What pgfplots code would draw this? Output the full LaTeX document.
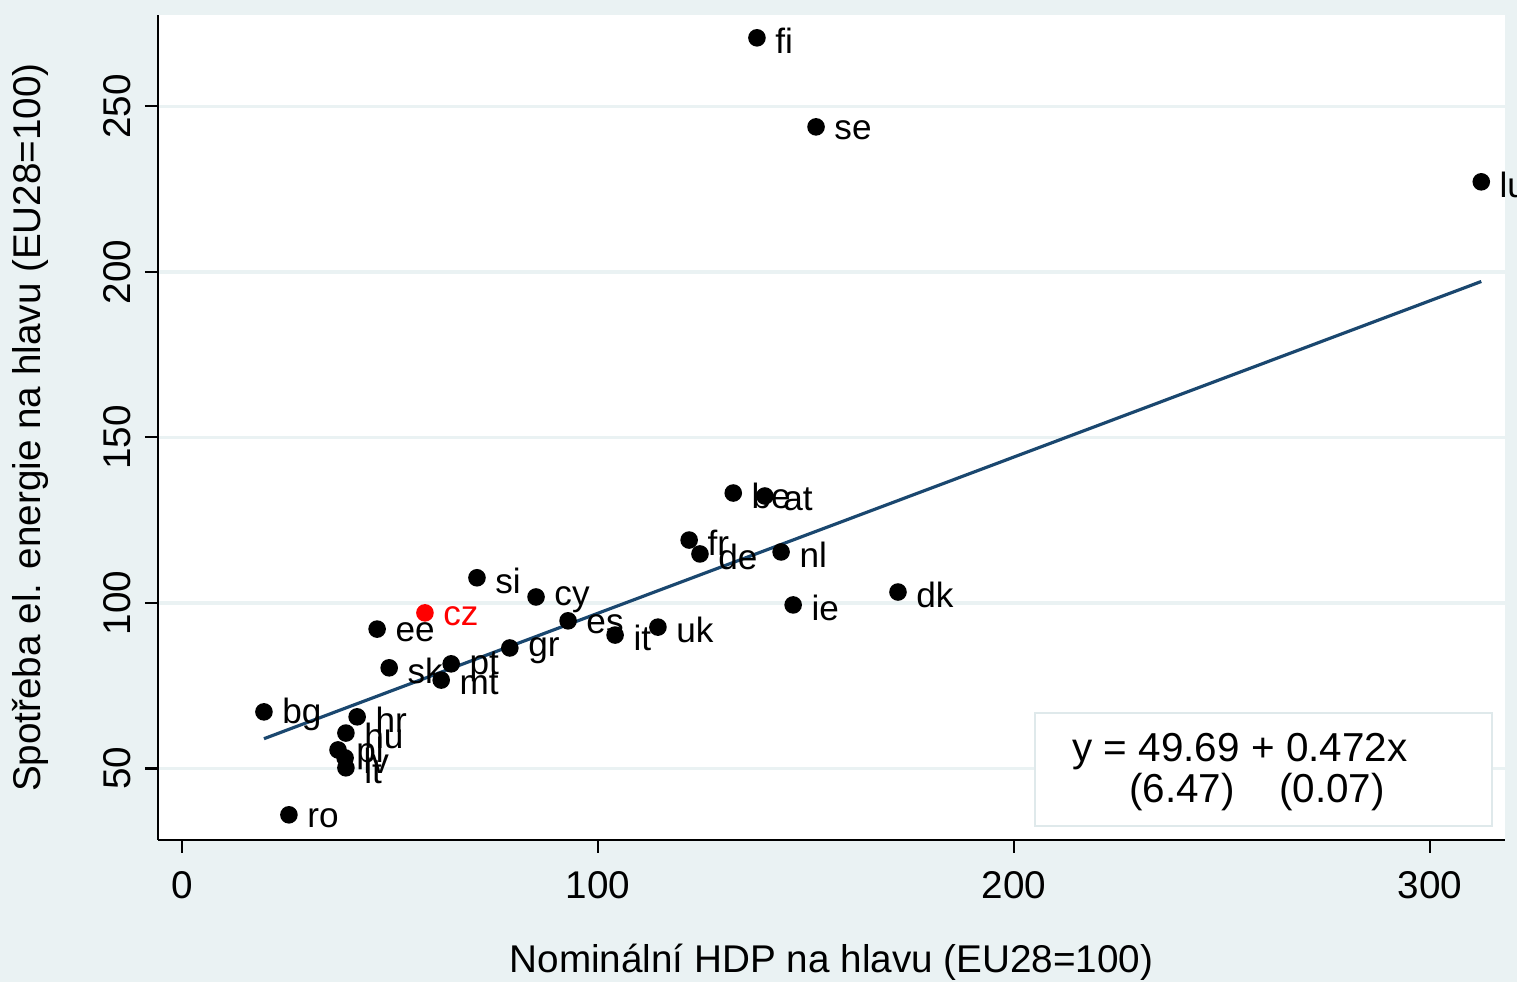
\documentclass[border=0pt]{standalone}
\usepackage{pgfplots}
\pgfplotsset{compat=1.18}
\usepackage{fontspec}
\setmainfont{Liberation Sans}
\definecolor{bgc}{HTML}{EAF2F3}
\definecolor{navy}{HTML}{1A476F}
\definecolor{boxc}{HTML}{DFE9EB}
\pgfplotstableread{
x y label
138.2 270.7 fi
152.4 243.8 se
312.3 227.2 lu
132.5 133.2 be
140.1 132.3 at
121.9 119.0 fr
124.5 114.8 de
144.0 115.4 nl
172.1 103.3 dk
146.9 99.4 ie
114.4 92.7 uk
104.1 90.3 it
92.8 94.6 es
85.1 101.8 cy
70.9 107.6 si
46.9 92.1 ee
49.8 80.4 sk
64.7 81.6 pt
62.3 76.7 mt
78.8 86.4 gr
19.7 67.1 bg
42.1 65.6 hr
39.4 60.7 hu
37.5 55.6 pl
39.2 53.2 lv
39.4 50.2 lt
25.7 36.0 ro
}\countries
\pgfplotstableread{
x y label
58.4 97.0 cz
}\czech
\begin{document}
\begin{tikzpicture}
\clip (-1.58,-1.42) rectangle (13.59,8.40);
\fill[bgc] (-1.58,-1.42) rectangle (13.59,8.40);
\begin{axis}[
  at={(0,0)}, anchor=south west, scale only axis,
  width=13.47cm, height=8.25cm,
  xmin=-5.77, xmax=318, ymin=28.4, ymax=277.6,
  axis background/.style={fill=white},
  axis lines*=left,
  axis line style={black, line width=0.6pt, -},
  tick align=outside, major tick length=0.13cm,
  tick style={black, line width=0.6pt},
  xtick={0,100,200,300}, ytick={50,100,150,200,250},
  minor tick num=0,
  ymajorgrids, grid style={bgc, line width=1pt},
  font=\fontsize{11}{13}\selectfont,
  /pgf/number format/assume math mode=true,
  yticklabel style={rotate=90, anchor=south, yshift=0.02cm},
  xticklabel style={yshift=-0.06cm},
  xlabel={Nominální HDP na hlavu (EU28=100)},
  ylabel={Spotřeba el. energie na hlavu (EU28=100)},
  xlabel style={at={(rel axis cs:0.5,-0.148)}, anchor=center},
  ylabel style={at={(rel axis cs:-0.095,0.5)}, anchor=center},
  clip=false,
]
\addplot[navy, line width=0.9pt] coordinates {(19.7,58.99) (312.3,197.10)};
\addplot[only marks, mark=*, mark size=2.3pt, black,
  nodes near coords, point meta=explicit symbolic,
  nodes near coords style={anchor=west, xshift=0.06cm, yshift=-0.03cm, font=\fontsize{10}{12}\selectfont, text=black}]
  table[x=x, y=y, meta=label] {\countries};
\addplot[only marks, mark=*, mark size=2.3pt, red,
  nodes near coords, point meta=explicit symbolic,
  nodes near coords style={anchor=west, xshift=0.06cm, yshift=-0.03cm, font=\fontsize{10}{12}\selectfont, text=red}]
  table[x=x, y=y, meta=label] {\czech};
\draw[boxc, fill=white, line width=0.6pt] (axis cs:205,32.6) rectangle (axis cs:314.9,66.8);
\node[font=\fontsize{11.5}{13}\selectfont, anchor=center] at (axis cs:254.3,55.0) {y = 49.69 + 0.472x};
\node[font=\fontsize{11.5}{13}\selectfont, anchor=center] at (axis cs:258.4,42.9) {(6.47)\hspace{1.1em}(0.07)};
\end{axis}
\end{tikzpicture}
\end{document}
